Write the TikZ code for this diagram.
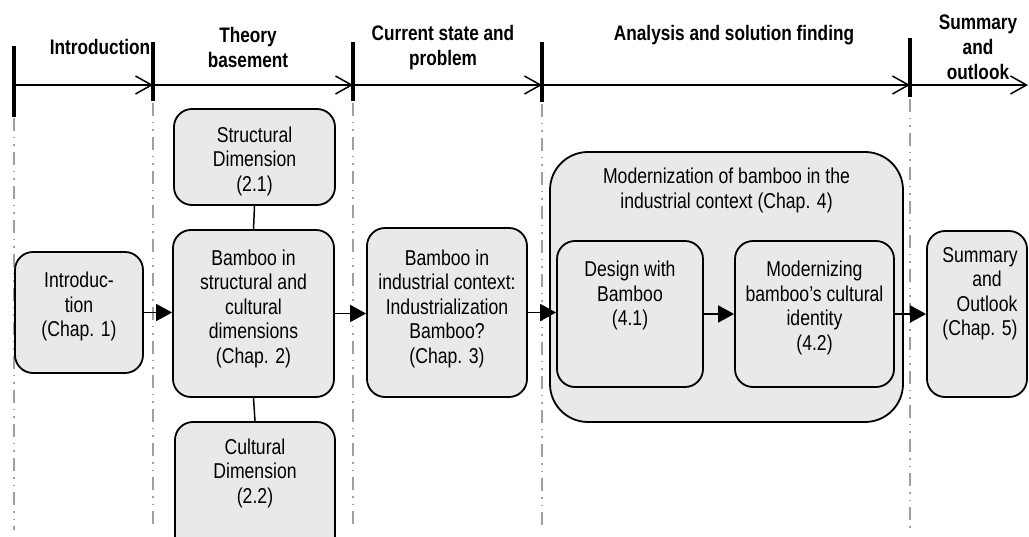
\documentclass[tikz,border=0pt]{standalone}
\usepackage{fontspec}
\setmainfont{Liberation Sans}[FakeStretch=0.82]
\usetikzlibrary{arrows.meta,calc}
\definecolor{boxfill}{RGB}{233,233,233}
\definecolor{guide}{RGB}{160,160,160}

\begin{document}
\begin{tikzpicture}[x=1pt,y=-1pt,
  box/.style={draw=black,line width=1.8pt,fill=boxfill,rounded corners=18pt,inner sep=0pt},
  bigbox/.style={box,rounded corners=38pt},
  lbl/.style={align=center,font=\fontsize{21.5}{24.5}\selectfont,inner sep=0pt},
  head/.style={align=center,font=\fontsize{21}{25}\selectfont\bfseries,inner sep=0pt},
  tick/.style={line width=3.5pt},
  phase/.style={line width=1.5pt,-{Straight Barb[length=16pt,width=18pt]}},
  flow/.style={line width=1.8pt,-{Triangle[length=16pt,width=17pt]}},
  link/.style={line width=1.5pt},
  guideline/.style={guide,line width=1.5pt,dash pattern=on 13pt off 6pt on 1.5pt off 6pt on 1.5pt off 6pt}]

\useasboundingbox (0,0) rectangle (1029,537);
\fill[white] (0,0) rectangle (1029,537);
\clip (0,0) rectangle (1029,537);

% ---- phase timeline ----
\coordinate (p0) at (14,85);
\coordinate (p1) at (153,85);
\coordinate (p2) at (353,85);
\coordinate (p3) at (542,85);
\coordinate (p4) at (910,85);
\coordinate (pend) at (1028,85);

\draw[guideline] (14,118) -- (14,530);
\draw[guideline] (153,103) -- (153,530);
\draw[guideline] (353,103) -- (353,530);
\draw[guideline] (542,104) -- (542,530);
\draw[guideline] (910,99) -- (910,530);

\draw[phase] (p0) -- (p1);
\draw[phase] (p1) -- (p2);
\draw[phase] (p2) -- (p3);
\draw[phase] (p3) -- (p4);
\draw[phase] (p4) -- (pend);

\draw[tick] (14,46) -- (14,117);
\draw[tick] (153,42) -- (153,101);
\draw[tick] (353,42) -- (353,101);
\draw[tick] (542,42) -- (542,102);
\draw[tick] (910,38) -- (910,97);

\node[head] (hIntro) at (100,47) {Introduction};
\node[head] (hTheory) at (248,47.5) {Theory\\basement};
\node[head] (hCurrent) at (443,47.5) {Current state and\\problem};
\node[head] (hAnalysis) at (734,35) {Analysis and solution finding};
\node[head] (hSummary) at (978,47.5) {Summary\\and\\outlook};

% ---- chapter boxes ----
\node[box,minimum width=128pt,minimum height=121pt] (intro) at (79,312.5) {};
\node[box,minimum width=161pt,minimum height=96pt] (struct) at (254.5,157) {};
\node[box,minimum width=161pt,minimum height=167pt] (bamb) at (253.5,313.5) {};
\node[box,minimum width=160pt,minimum height=138pt] (cult) at (255,491) {};
\node[box,minimum width=160pt,minimum height=169pt] (indus) at (447,312.5) {};
\node[bigbox,minimum width=353pt,minimum height=270pt] (modbig) at (726.5,287) {};
\node[box,minimum width=146pt,minimum height=146pt] (design) at (630,314) {};
\node[box,minimum width=159pt,minimum height=146pt] (modern) at (814.5,314) {};
\node[box,minimum width=100pt,minimum height=166pt] (summ) at (977,314) {};

% ---- box texts ----
\node[lbl] (tIntro) at (79,306.5) {Introduc-\\tion\\(Chap. 1)};
\node[lbl] (tStruct) at (254.5,161) {Structural\\Dimension\\(2.1)};
\node[lbl] (tBamb) at (253.5,308.5) {Bamboo in\\structural and\\cultural\\dimensions\\(Chap. 2)};
\node[lbl] (tCult) at (255,473) {Cultural\\Dimension\\(2.2)};
\node[lbl] (tIndus) at (447,308.5) {Bamboo in\\industrial context:\\Industrialization\\Bamboo?\\(Chap. 3)};
\node[lbl] (tBig) at (726.5,190.5) {Modernization of bamboo in the\\industrial context (Chap. 4)};
\node[lbl] (tDesign) at (630,295.5) {Design with\\Bamboo\\(4.1)};
\node[lbl] (tModern) at (814.5,307.75) {Modernizing\\bamboo’s cultural\\identity\\(4.2)};
\node[lbl] (tSumm) at (980,293.5) {Summary\\\hspace*{14pt}and\\\hspace*{14pt}Outlook\\(Chap. 5)};

% ---- connectors ----
\draw[link] (struct.south) -- (bamb.north);
\draw[link] (bamb.south) -- (cult.north);
\draw[flow] (intro.east) -- (intro.east -| bamb.west);
\draw[flow] (bamb.east) -- (bamb.east -| indus.west);
\draw[flow] (indus.east) -- (indus.east -| design.west);
\draw[flow] (design.east) -- (modern.west);
\draw[flow] (modern.east) -- (summ.west);
\end{tikzpicture}
\end{document}
